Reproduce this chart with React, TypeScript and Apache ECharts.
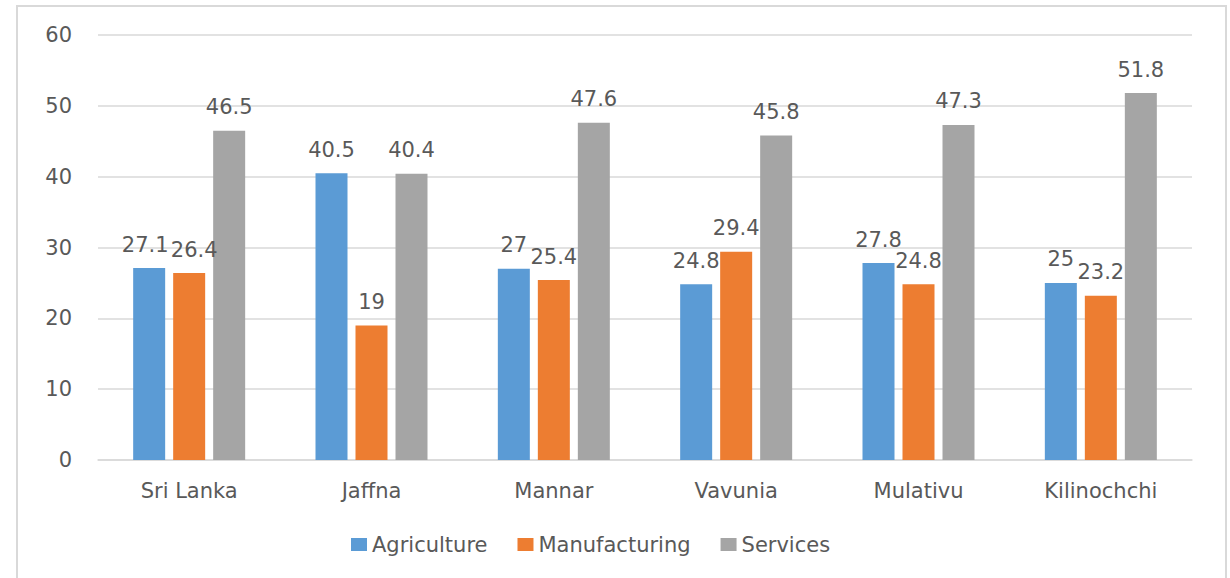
import React, { useEffect, useRef } from "react";
import * as echarts from "echarts";

const categories = ["Sri Lanka", "Jaffna", "Mannar", "Vavunia", "Mulativu", "Kilinochchi"];
const agriculture = [27.1, 40.5, 27, 24.8, 27.8, 25];
const manufacturing = [26.4, 19, 25.4, 29.4, 24.8, 23.2];
const services = [46.5, 40.4, 47.6, 45.8, 47.3, 51.8];
const seriesNames = ["Agriculture", "Manufacturing", "Services"];
const colors = ["#5B9BD5", "#ED7D31", "#A5A5A5"];

const FONT = "DejaVu Sans";
const TEXT = "#595959";
const FS = 21;

// small horizontal nudges for labels that would otherwise collide
const labelNudge: Record<string, number> = { "0-0": -4, "1-0": 5 };

export default function App() {
  const ref = useRef<HTMLDivElement>(null);
  useEffect(() => {
    if (!ref.current) return;
    const chart = echarts.init(ref.current, undefined, { renderer: "svg" });
    const data = [agriculture, manufacturing, services];
    chart.setOption({
      animation: false,
      backgroundColor: "#ffffff",
      textStyle: { fontFamily: FONT, color: TEXT },
      graphic: [
        {
          type: "rect",
          shape: { x: 17, y: 6, width: 1209, height: 620 },
          style: { fill: "none", stroke: "#D9D9D9", lineWidth: 2 },
          silent: true,
        },
      ],
      grid: { left: 98, right: 38, top: 35, bottom: 118 },
      legend: {
        data: seriesNames,
        bottom: 18,
        left: 346,
        itemWidth: 16,
        itemHeight: 13,
        itemGap: 30,
        icon: "rect",
        textStyle: { fontFamily: FONT, fontSize: FS, color: TEXT },
      },
      xAxis: {
        type: "category",
        data: categories,
        axisLine: { lineStyle: { color: "#D9D9D9", width: 1.5 } },
        axisTick: { show: false },
        axisLabel: { fontFamily: FONT, fontSize: FS, color: TEXT, margin: 20 },
      },
      yAxis: {
        type: "value",
        min: 0,
        max: 60,
        interval: 10,
        axisLine: { show: false },
        axisTick: { show: false },
        splitLine: { lineStyle: { color: "#D9D9D9", width: 1.5 } },
        axisLabel: { fontFamily: FONT, fontSize: FS, color: TEXT, margin: 26 },
      },
      series: seriesNames.map((name, i) => ({
        name,
        type: "bar",
        data: data[i].map((v, j) => {
          const n = labelNudge[`${i}-${j}`];
          return n ? { value: v, label: { offset: [n, 0] } } : v;
        }),
        barWidth: 32,
        barGap: "25%",
        itemStyle: { color: colors[i] },
        label: {
          show: true,
          position: "top",
          distance: 13,
          fontFamily: FONT,
          fontSize: FS,
          color: TEXT,
        },
      })),
    });
    return () => chart.dispose();
  }, []);
  return (
    <div
      ref={ref}
      style={{ position: "fixed", left: 0, top: 0, width: 1230, height: 578 }}
    />
  );
}
